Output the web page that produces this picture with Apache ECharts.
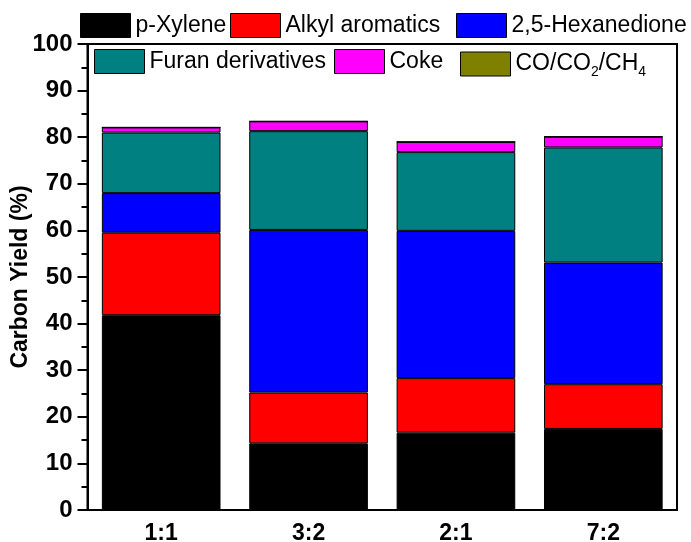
<!DOCTYPE html>
<html><head><meta charset="utf-8">
<script src="https://cdn.jsdelivr.net/npm/echarts@6/dist/echarts.min.js"></script>
<style>html,body{margin:0;padding:0;background:#fff}#c{width:691px;height:542px}</style>
</head><body><div id="c"></div>
<script>
const categories = ['1:1', '3:2', '2:1', '7:2'];
const pXylene = [41.8, 14.3, 16.6, 17.4];
const alkylAromatics = [17.7, 10.9, 11.7, 9.6];
const hexanedione = [8.5, 34.9, 31.6, 26.1];
const furanDerivatives = [13.0, 21.2, 16.9, 24.7];
const coke = [1.1, 2.1, 2.2, 2.3];
const gases = [0, 0, 0, 0];
const yTicks = { min: 0, max: 100, interval: 10 };

const names = ['p-Xylene', 'Alkyl aromatics', '2,5-Hexanedione', 'Furan derivatives', 'Coke', 'CO/CO2/CH4'];
const colors = ['#000000', '#ff0000', '#0000ff', '#008080', '#ff00ff', '#808000'];
const values = [pXylene, alkylAromatics, hexanedione, furanDerivatives, coke, gases];
const legendPos = [[80, 13], [230, 13], [456, 13], [94, 49], [334, 49], [460, 49]];
const FONT = '"Liberation Sans", Arial, sans-serif';

const chart = echarts.init(document.getElementById('c'), null, { renderer: 'canvas' });
const legends = names.map((n, i) => ({
  data: [n], left: legendPos[i][0], top: legendPos[i][1], padding: 0,
  itemWidth: 50, itemHeight: 24, itemGap: 0, itemTextGap: 5,
  icon: 'rect',
  selectedMode: false,
  itemStyle: { borderColor: '#000', borderWidth: 1 },
  formatter: n === 'CO/CO2/CH4' ? '{n|CO/CO}{s|2}{n|/CH}{s|4}' : '{n|' + n + '}',
  textStyle: {
    fontFamily: FONT, fontSize: 23, color: '#000',
    rich: {
      n: { fontFamily: FONT, fontSize: 23, lineHeight: 26, color: '#000', verticalAlign: 'middle' },
      s: { fontFamily: FONT, fontSize: 14, lineHeight: 14, color: '#000', padding: [16, 0, 0, 0], verticalAlign: 'middle' }
    }
  }
}));

chart.setOption({
  animation: false,
  backgroundColor: '#fff',
  legend: legends,
  grid: { left: 87.5, right: 14, top: 44, bottom: 32, outerBoundsMode: 'none', containLabel: false,
          show: true, borderColor: '#000', borderWidth: 2, backgroundColor: 'transparent' },
  xAxis: [{
    type: 'category', data: categories, position: 'bottom',
    axisLine: { lineStyle: { color: '#000', width: 2 } },
    axisTick: { alignWithLabel: true, length: 9, lineStyle: { color: '#000', width: 2 } },
    axisLabel: { fontFamily: FONT, fontWeight: 'bold', fontSize: 23, color: '#000', margin: 12 }
  }, {
    type: 'category', data: categories, position: 'bottom',
    axisLine: { show: false },
    axisTick: { length: 4, lineStyle: { color: '#000', width: 2 } },
    axisLabel: { show: false }
  }],
  yAxis: {
    type: 'value', min: yTicks.min, max: yTicks.max, interval: yTicks.interval,
    name: 'Carbon Yield (%)', nameLocation: 'middle', nameGap: 55, nameMoveOverlap: false,
    nameTextStyle: { fontFamily: FONT, fontWeight: 'bold', fontSize: 23, color: '#000' },
    axisLine: { show: true, lineStyle: { color: '#000', width: 2 } },
    axisTick: { show: true, length: 10, lineStyle: { color: '#000', width: 2 } },
    minorTick: { show: true, splitNumber: 2, length: 6, lineStyle: { color: '#000', width: 2 } },
    splitLine: { show: false },
    axisLabel: { fontFamily: FONT, fontWeight: 'bold', fontSize: 24, color: '#000', margin: 15 }
  },
  series: names.map((n, i) => ({
    name: n, type: 'bar', stack: 'total', data: values[i],
    barCategoryGap: '19.5%',
    itemStyle: { color: colors[i], borderColor: '#000', borderWidth: 1 }
  }))
});
</script></body></html>
